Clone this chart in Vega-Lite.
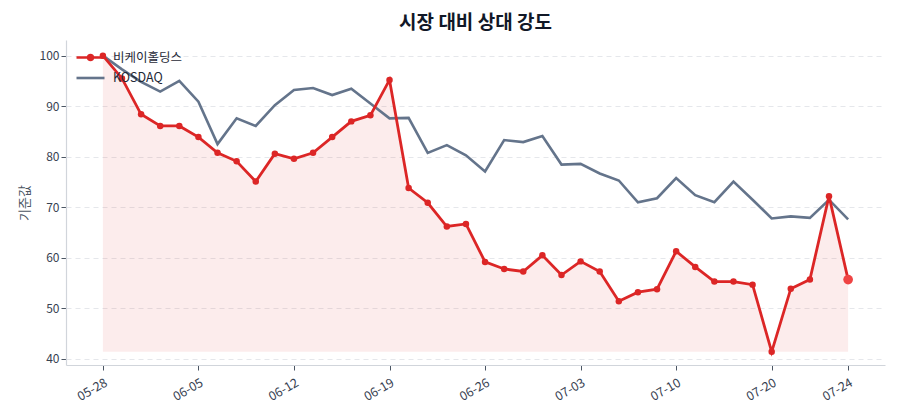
{
  "$schema": "https://vega.github.io/schema/vega-lite/v6.json",
  "width": 819,
  "height": 325,
  "autosize": {"type": "none"},
  "padding": {"left": 66, "top": 40, "right": 15, "bottom": 55},
  "background": "white",
  "title": {"text": "시장 대비 상대 강도", "fontSize": 19, "fontWeight": "bold", "font": "Noto Sans CJK KR", "color": "#111827", "anchor": "middle", "offset": 7},
  "config": {
    "view": {"stroke": null},
    "font": "Noto Sans CJK KR",
    "axis": {"labelFont": "Noto Sans CJK KR", "labelColor": "#374151", "labelFontSize": 12, "domainColor": "#d1d5db", "domainWidth": 1.2, "tickColor": "#4b5563", "tickSize": 5, "titleFont": "Noto Sans CJK KR"}
  },
  "datasets": {
    "rows": [
      {"date": "05-28", "series": "비케이홀딩스", "value": 100},
      {"date": "05-29", "series": "비케이홀딩스", "value": 95.5},
      {"date": "05-30", "series": "비케이홀딩스", "value": 88.4},
      {"date": "06-02", "series": "비케이홀딩스", "value": 86.1},
      {"date": "06-04", "series": "비케이홀딩스", "value": 86.1},
      {"date": "06-05", "series": "비케이홀딩스", "value": 83.9},
      {"date": "06-06", "series": "비케이홀딩스", "value": 80.8},
      {"date": "06-09", "series": "비케이홀딩스", "value": 79.1},
      {"date": "06-10", "series": "비케이홀딩스", "value": 75.1},
      {"date": "06-11", "series": "비케이홀딩스", "value": 80.6},
      {"date": "06-12", "series": "비케이홀딩스", "value": 79.6},
      {"date": "06-13", "series": "비케이홀딩스", "value": 80.8},
      {"date": "06-16", "series": "비케이홀딩스", "value": 83.9},
      {"date": "06-17", "series": "비케이홀딩스", "value": 87.0},
      {"date": "06-18", "series": "비케이홀딩스", "value": 88.2},
      {"date": "06-19", "series": "비케이홀딩스", "value": 95.2},
      {"date": "06-20", "series": "비케이홀딩스", "value": 73.8},
      {"date": "06-23", "series": "비케이홀딩스", "value": 70.9},
      {"date": "06-24", "series": "비케이홀딩스", "value": 66.2},
      {"date": "06-25", "series": "비케이홀딩스", "value": 66.7},
      {"date": "06-26", "series": "비케이홀딩스", "value": 59.2},
      {"date": "06-27", "series": "비케이홀딩스", "value": 57.8},
      {"date": "06-30", "series": "비케이홀딩스", "value": 57.3},
      {"date": "07-01", "series": "비케이홀딩스", "value": 60.5},
      {"date": "07-02", "series": "비케이홀딩스", "value": 56.6},
      {"date": "07-03", "series": "비케이홀딩스", "value": 59.3},
      {"date": "07-04", "series": "비케이홀딩스", "value": 57.3},
      {"date": "07-07", "series": "비케이홀딩스", "value": 51.4},
      {"date": "07-08", "series": "비케이홀딩스", "value": 53.2},
      {"date": "07-09", "series": "비케이홀딩스", "value": 53.8},
      {"date": "07-10", "series": "비케이홀딩스", "value": 61.3},
      {"date": "07-11", "series": "비케이홀딩스", "value": 58.2},
      {"date": "07-14", "series": "비케이홀딩스", "value": 55.3},
      {"date": "07-15", "series": "비케이홀딩스", "value": 55.3},
      {"date": "07-16", "series": "비케이홀딩스", "value": 54.7},
      {"date": "07-20", "series": "비케이홀딩스", "value": 41.4},
      {"date": "07-21", "series": "비케이홀딩스", "value": 53.9},
      {"date": "07-22", "series": "비케이홀딩스", "value": 55.7},
      {"date": "07-23", "series": "비케이홀딩스", "value": 72.2},
      {"date": "07-24", "series": "비케이홀딩스", "value": 55.7},
      {"date": "05-28", "series": "KOSDAQ", "value": 100},
      {"date": "05-29", "series": "KOSDAQ", "value": 97.3},
      {"date": "05-30", "series": "KOSDAQ", "value": 94.8},
      {"date": "06-02", "series": "KOSDAQ", "value": 92.9},
      {"date": "06-04", "series": "KOSDAQ", "value": 95.0},
      {"date": "06-05", "series": "KOSDAQ", "value": 90.9},
      {"date": "06-06", "series": "KOSDAQ", "value": 82.5},
      {"date": "06-09", "series": "KOSDAQ", "value": 87.6},
      {"date": "06-10", "series": "KOSDAQ", "value": 86.1},
      {"date": "06-11", "series": "KOSDAQ", "value": 90.2},
      {"date": "06-12", "series": "KOSDAQ", "value": 93.2},
      {"date": "06-13", "series": "KOSDAQ", "value": 93.6},
      {"date": "06-16", "series": "KOSDAQ", "value": 92.2},
      {"date": "06-17", "series": "KOSDAQ", "value": 93.45},
      {"date": "06-18", "series": "KOSDAQ", "value": 90.55},
      {"date": "06-19", "series": "KOSDAQ", "value": 87.6},
      {"date": "06-20", "series": "KOSDAQ", "value": 87.7},
      {"date": "06-23", "series": "KOSDAQ", "value": 80.75},
      {"date": "06-24", "series": "KOSDAQ", "value": 82.3},
      {"date": "06-25", "series": "KOSDAQ", "value": 80.3},
      {"date": "06-26", "series": "KOSDAQ", "value": 77.1},
      {"date": "06-27", "series": "KOSDAQ", "value": 83.3},
      {"date": "06-30", "series": "KOSDAQ", "value": 82.9},
      {"date": "07-01", "series": "KOSDAQ", "value": 84.1},
      {"date": "07-02", "series": "KOSDAQ", "value": 78.45},
      {"date": "07-03", "series": "KOSDAQ", "value": 78.6},
      {"date": "07-04", "series": "KOSDAQ", "value": 76.7},
      {"date": "07-07", "series": "KOSDAQ", "value": 75.3},
      {"date": "07-08", "series": "KOSDAQ", "value": 71.0},
      {"date": "07-09", "series": "KOSDAQ", "value": 71.8},
      {"date": "07-10", "series": "KOSDAQ", "value": 75.8},
      {"date": "07-11", "series": "KOSDAQ", "value": 72.4},
      {"date": "07-14", "series": "KOSDAQ", "value": 71.0},
      {"date": "07-15", "series": "KOSDAQ", "value": 75.1},
      {"date": "07-16", "series": "KOSDAQ", "value": 71.5},
      {"date": "07-20", "series": "KOSDAQ", "value": 67.8},
      {"date": "07-21", "series": "KOSDAQ", "value": 68.2},
      {"date": "07-22", "series": "KOSDAQ", "value": 67.9},
      {"date": "07-23", "series": "KOSDAQ", "value": 71.5},
      {"date": "07-24", "series": "KOSDAQ", "value": 67.6}
    ]
  },
  "data": {"name": "rows"},
  "encoding": {
    "x": {
      "field": "date", "type": "ordinal", "sort": null,
      "scale": {"type": "point", "padding": 0.93,
        "domain": ["05-27", "05-28", "05-29", "05-30", "06-02", "06-04", "06-05", "06-06", "06-09", "06-10", "06-11", "06-12", "06-13", "06-16", "06-17", "06-18", "06-19", "06-20", "06-23", "06-24", "06-25", "06-26", "06-27", "06-30", "07-01", "07-02", "07-03", "07-04", "07-07", "07-08", "07-09", "07-10", "07-11", "07-14", "07-15", "07-16", "07-20", "07-21", "07-22", "07-23", "07-24", "07-25"]},
      "axis": {"title": null, "grid": false, "labelAngle": -30, "labelAlign": "right", "labelBaseline": "top", "labelPadding": 6, "labelFontSize": 12.5,
        "values": ["05-28", "06-05", "06-12", "06-19", "06-26", "07-03", "07-10", "07-20", "07-24"]}
    },
    "y": {
      "field": "value", "type": "quantitative",
      "scale": {"domain": [38.8, 103.1], "nice": false, "zero": false},
      "axis": {"title": "기준값", "titleColor": "#4b5563", "titleFontSize": 13, "titleFontWeight": "normal", "titlePadding": 8,
        "values": [40, 50, 60, 70, 80, 90, 100], "grid": true, "gridDash": [5, 4], "gridColor": "#e5e7eb", "gridWidth": 1}
    }
  },
  "layer": [
    {
      "transform": [
        {"filter": "datum.series === '비케이홀딩스'"},
        {"joinaggregate": [{"op": "min", "field": "value", "as": "minv"}]}
      ],
      "mark": {"type": "area", "color": "#dc2626", "opacity": 0.085},
      "encoding": {"y2": {"field": "minv"}}
    },
    {
      "transform": [{"filter": "datum.series === 'KOSDAQ'"}],
      "mark": {"type": "line", "strokeWidth": 2.6},
      "encoding": {
        "color": {
          "field": "series", "type": "nominal",
          "scale": {"domain": ["비케이홀딩스", "KOSDAQ"], "range": ["#dc2626", "#64748b"]},
          "legend": {
            "orient": "none", "legendX": 16, "legendY": 9, "title": null, "padding": 0,
            "symbolSize": 196, "symbolStrokeWidth": 2.6, "symbolType": "M-2,0H2",
            "labelFontSize": 12.5, "labelColor": "#1f2937", "labelOffset": 14, "rowPadding": 3.5,
            "labelFont": "Noto Sans CJK KR",
            "encode": {"symbols": {"update": {
              "shape": {"signal": "datum.value === '비케이홀딩스' ? 'M-2,0H2M-0.36,0A0.36,0.36,0,1,0,0.36,0A0.36,0.36,0,1,0,-0.36,0Z' : 'M-2,0H2'"},
              "fill": {"signal": "datum.value === '비케이홀딩스' ? '#dc2626' : 'transparent'"}
            }}}
          }
        }
      }
    },
    {
      "transform": [{"filter": "datum.series === '비케이홀딩스'"}],
      "mark": {"type": "line", "strokeWidth": 2.8},
      "encoding": {
        "color": {"field": "series", "type": "nominal", "scale": {"domain": ["비케이홀딩스", "KOSDAQ"], "range": ["#dc2626", "#64748b"]}}
      }
    },
    {
      "transform": [{"filter": "datum.series === '비케이홀딩스' && datum.date !== '07-24'"}],
      "mark": {"type": "circle", "size": 42, "color": "#dc2626", "opacity": 1}
    },
    {
      "transform": [{"filter": "datum.series === '비케이홀딩스' && datum.date === '07-24'"}],
      "mark": {"type": "circle", "size": 95, "color": "#ef4444", "opacity": 1}
    }
  ]
}
